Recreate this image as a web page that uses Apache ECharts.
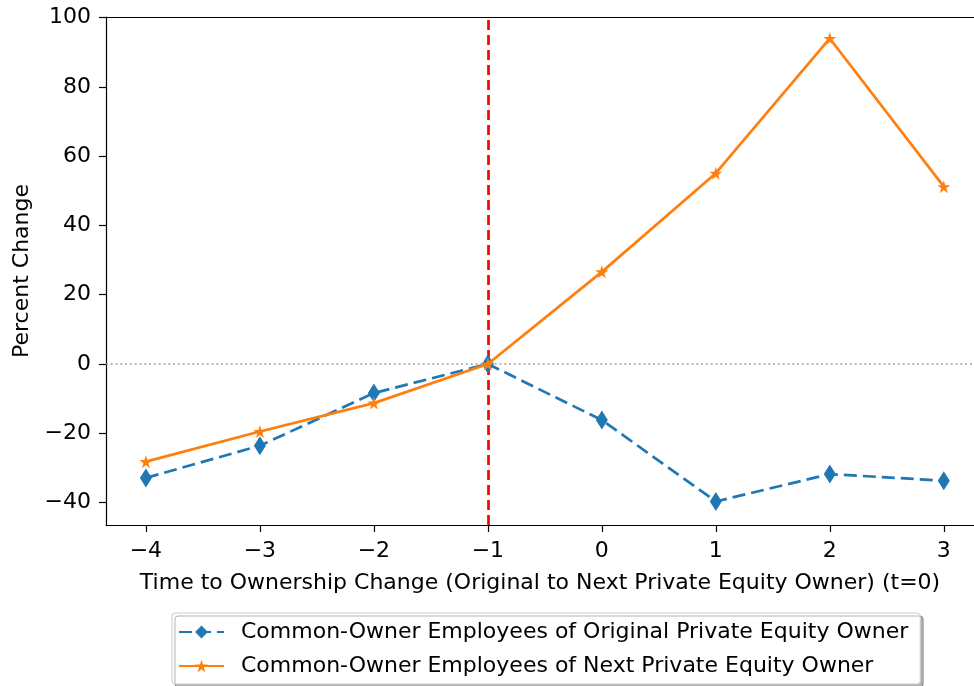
<!DOCTYPE html>
<html>
<head>
<meta charset="utf-8">
<script src="https://cdn.jsdelivr.net/npm/echarts@6/dist/echarts.min.js"></script>
<style>
  html, body { margin: 0; padding: 0; background: #fff; }
  #chart { width: 974px; height: 686px; }
</style>
</head>
<body>
<div id="chart"></div>
<script>
// Years relative to the ownership change
const years = [-4, -3, -2, -1, 0, 1, 2, 3];
// Percent change in common-owner employees
const originalOwner = [-32.9, -23.6, -8.4, 0, -16.2, -39.7, -31.8, -33.7];
const nextOwner = [-28.2, -19.5, -11.3, 0, 26.6, 55.1, 94.0, 51.2];
// Tick labels
const xTicks = [-4, -3, -2, -1, 0, 1, 2, 3];
const yTicks = [-40, -20, 0, 20, 40, 60, 80, 100];

const seriesNames = [
  'Common-Owner Employees of Original Private Equity Owner',
  'Common-Owner Employees of Next Private Equity Owner'
];

const FONT = 'DejaVu Sans';
const FS = 22;
const STAR = 'path://M50,0 L61.2,34.5 L97.6,34.5 L68.2,55.9 L79.4,90.5 L50,69.1 L20.6,90.5 L31.8,55.9 L2.4,34.5 L38.8,34.5 Z';

const fmtMinus = v => (v < 0 ? '\u2212' + Math.abs(v) : String(v));

const chart = echarts.init(document.getElementById('chart'), null, { renderer: 'canvas' });

const option = {
  backgroundColor: '#fff',
  animation: false,
  textStyle: { fontFamily: FONT },
  grid: {
    left: 106, top: 17, right: 0, bottom: 161,
    outerBoundsMode: 'none', containLabel: false
  },
  xAxis: [{
    type: 'value',
    min: -4.35, max: 3.265,
    name: 'Time to Ownership Change (Original to Next Private Equity Owner) (t=0)',
    nameLocation: 'middle',
    nameGap: 47,
    nameTextStyle: { fontSize: FS, color: '#000', fontFamily: FONT },
    axisLine: { show: true, onZero: false, lineStyle: { color: '#000', width: 1.2 } },
    axisTick: { show: true, length: 7, lineStyle: { color: '#000', width: 1.2 }, customValues: xTicks },
    axisLabel: { show: true, fontSize: FS, color: '#000', margin: 15, fontFamily: FONT, customValues: xTicks, formatter: fmtMinus },
    splitLine: { show: false }
  }, {
    type: 'value',
    position: 'top',
    min: -4.35, max: 3.265,
    axisLine: { show: true, onZero: false, lineStyle: { color: '#000', width: 1.2 } },
    axisTick: { show: false },
    axisLabel: { show: false },
    splitLine: { show: false }
  }],
  yAxis: {
    type: 'value',
    min: -46.5, max: 100.2,
    name: 'Percent Change',
    nameLocation: 'middle',
    nameRotate: 90,
    nameGap: 73,
    nameTextStyle: { fontSize: FS, color: '#000', fontFamily: FONT },
    axisLine: { show: true, onZero: false, lineStyle: { color: '#000', width: 1.2 } },
    axisTick: { show: true, length: 7, lineStyle: { color: '#000', width: 1.2 }, customValues: yTicks },
    axisLabel: { show: true, fontSize: FS, color: '#000', margin: 15, fontFamily: FONT, customValues: yTicks, formatter: fmtMinus },
    splitLine: { show: false }
  },
  legend: {
    orient: 'vertical',
    left: 172, top: 613,
    height: 200,
    padding: [8, 12, 7, 6],
    itemWidth: 45, itemHeight: 16, itemGap: 12,
    backgroundColor: '#fff',
    borderColor: '#cccccc', borderWidth: 1, borderRadius: 3,
    shadowColor: 'rgba(0,0,0,0.3)', shadowBlur: 0, shadowOffsetX: 3, shadowOffsetY: 3,
    textStyle: { fontSize: FS, color: '#000', fontFamily: FONT, padding: [0, 0, 0, 12] },
    data: seriesNames
  },
  series: [
    {
      name: seriesNames[0],
      type: 'line',
      data: years.map((t, i) => [t, originalOwner[i]]),
      symbol: 'diamond',
      symbolSize: [12, 19],
      itemStyle: { color: '#1f77b4' },
      lineStyle: { color: '#1f77b4', width: 2.7, type: [13, 6] },
      z: 3,
      markLine: {
        silent: true,
        symbol: 'none',
        label: { show: false },
        z: 1,
        data: [
          { xAxis: -1, lineStyle: { color: '#ff0000', width: 2.7, type: [10, 5] } },
          { yAxis: 0, lineStyle: { color: '#999999', width: 1.5, type: [1.8, 3] } }
        ]
      }
    },
    {
      name: seriesNames[1],
      type: 'line',
      data: years.map((t, i) => [t, nextOwner[i]]),
      symbol: STAR,
      symbolSize: 13,
      itemStyle: { color: '#ff7f0e' },
      lineStyle: { color: '#ff7f0e', width: 2.7, type: 'solid' },
      z: 4
    }
  ]
};

chart.setOption(option);
</script>
</body>
</html>
